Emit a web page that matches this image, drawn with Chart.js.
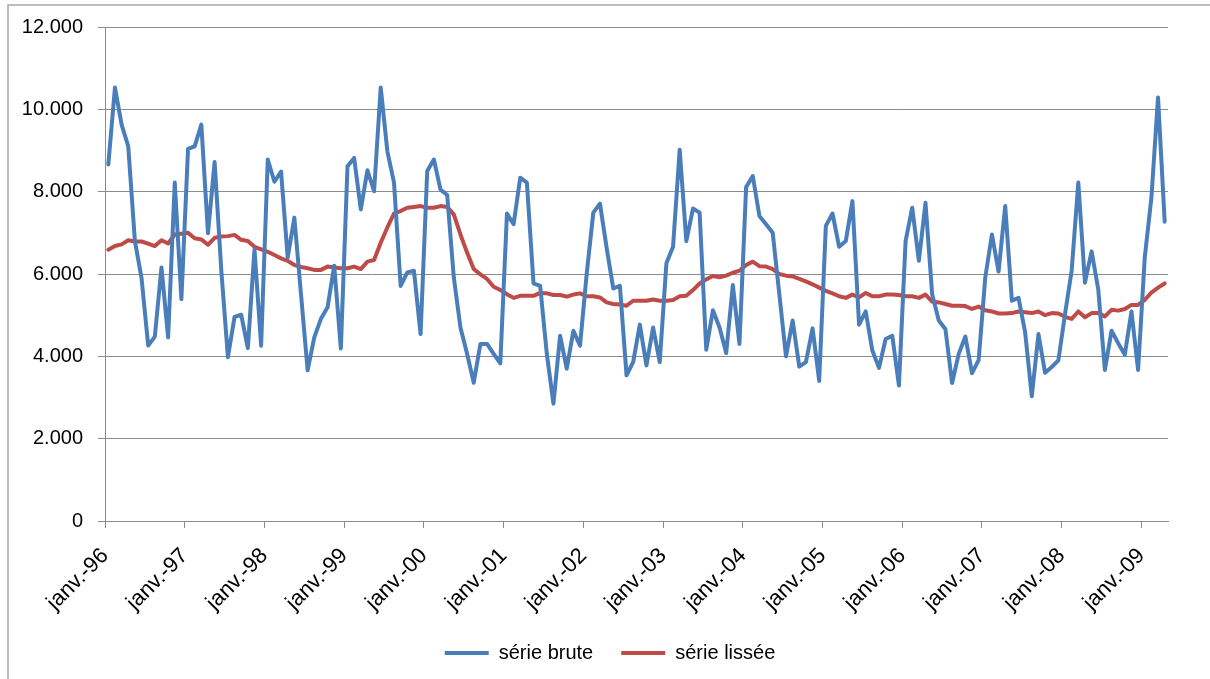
<!DOCTYPE html>
<html>
<head>
<meta charset="utf-8">
<script src="https://cdn.jsdelivr.net/npm/chart.js@4/dist/chart.umd.min.js"></script>
<style>
  html, body { margin: 0; padding: 0; background: #fff; }
  #cadre { width: 1210px; height: 679px; }
</style>
</head>
<body>
<div id="cadre"><canvas id="graphique"></canvas></div>
<script>
// étiquettes de l'axe des x (une par année, au mois de janvier)
const tickLabels = ['janv.-96', 'janv.-97', 'janv.-98', 'janv.-99', 'janv.-00', 'janv.-01', 'janv.-02',
  'janv.-03', 'janv.-04', 'janv.-05', 'janv.-06', 'janv.-07', 'janv.-08', 'janv.-09'];

// série mensuelle, janv. 96 -> avr. 09
const serieBrute = [
  8660, 10530, 9630, 9100, 6800, 5900, 4260, 4480, 6160, 4460, 8220, 5390,
  9040, 9100, 9630, 6990, 8720, 6100, 3980, 4960, 5010, 4200, 6600, 4260,
  8780, 8240, 8490, 6400, 7370, 5510, 3660, 4460, 4910, 5190, 6200, 4190,
  8620, 8820, 7570, 8520, 8010, 10530, 8980, 8220, 5710, 6040, 6080, 4540,
  8500, 8780, 8050, 7920, 5920, 4700, 4060, 3360, 4300, 4300, 4060, 3830,
  7470, 7210, 8340, 8220, 5770, 5710, 4060, 2850, 4500, 3700, 4620, 4260,
  6000, 7490, 7710, 6640, 5650, 5710, 3540, 3860, 4770, 3780, 4700, 3860,
  6260, 6660, 9020, 6800, 7590, 7490, 4160, 5120, 4700, 4080, 5730, 4300,
  8110, 8380, 7410, 7210, 7000, 5510, 4000, 4870, 3750, 3860, 4680, 3400,
  7170, 7470, 6660, 6800, 7770, 4770, 5090, 4140, 3720, 4420, 4500, 3290,
  6800, 7610, 6320, 7730, 5510, 4870, 4660, 3350, 4060, 4480, 3590, 3910,
  5920, 6960, 6060, 7650, 5350, 5420, 4580, 3030, 4540, 3600, 3740, 3900,
  5030, 6080, 8220, 5790, 6550, 5630, 3670, 4620, 4320, 4040, 5090, 3670,
  6400, 7850, 10290, 7270
];

const serieLissee = [
  6590, 6680, 6720, 6820, 6790, 6790, 6740, 6680, 6820, 6740, 6960, 6980,
  7000, 6870, 6840, 6710, 6880, 6910, 6920, 6950, 6830, 6800, 6660, 6600,
  6540, 6460, 6380, 6320, 6220, 6170, 6140, 6100, 6100, 6180, 6160, 6140,
  6140, 6180, 6120, 6300, 6340, 6760, 7130, 7470, 7530, 7610, 7630, 7650,
  7610, 7610, 7650, 7630, 7450, 6960, 6520, 6120, 5990, 5880, 5690, 5610,
  5510, 5420, 5470, 5470, 5470, 5540, 5530, 5490, 5490, 5450, 5500, 5530,
  5460, 5460, 5430, 5310, 5270, 5260, 5230, 5350, 5350, 5350, 5380, 5350,
  5350, 5370, 5460, 5470, 5610, 5770, 5870, 5950, 5920, 5960, 6030, 6080,
  6220, 6300, 6190, 6180, 6120, 6000, 5960, 5940, 5880, 5820, 5750, 5670,
  5590, 5530, 5460, 5420, 5500, 5430, 5540, 5460, 5460, 5500, 5500, 5490,
  5460, 5460, 5420, 5500, 5330, 5310, 5270, 5230, 5230, 5220, 5150, 5210,
  5120, 5090, 5040, 5040, 5050, 5090, 5070, 5050, 5090, 5000, 5050, 5040,
  4960, 4910, 5090, 4950, 5050, 5050, 4970, 5130, 5110, 5150, 5250, 5250,
  5370, 5550, 5670, 5770
];

const gris = '#8c8c8c';
const police = "'Liberation Sans Narrow', 'Arial Narrow', 'Liberation Sans', Arial, sans-serif";

// points {x: rang du mois, y: valeur}
const enPoints = serie => serie.map((v, i) => ({ x: i, y: v }));

// séparateur de milliers à la française : 12.000
const milliers = v => String(v).replace(/\B(?=(\d{3})+(?!\d))/g, '.');

// cadre gris autour du graphique (bord gauche et haut visibles)
const cadre = {
  id: 'cadre',
  beforeDraw(chart) {
    const c = chart.ctx;
    c.save();
    c.fillStyle = '#fff';
    c.fillRect(0, 0, chart.width, chart.height);
    c.strokeStyle = '#a6a6a6';
    c.lineWidth = 1.5;
    c.strokeRect(8, 5, chart.width + 20, chart.height + 20);
    c.restore();
  },
  // légende un peu décalée vers la droite, comme sur l'original
  afterLayout(chart) {
    chart.legend.left += 26;
    chart.legend.right += 26;
  }
};

const ctx = document.getElementById('graphique').getContext('2d');
const graphique = new Chart(ctx, {
  type: 'line',
  data: {
    datasets: [{
      label: 'série brute',
      data: enPoints(serieBrute),
      borderColor: '#4a7ebb',
      backgroundColor: '#4a7ebb',
      borderWidth: 4,
      pointRadius: 0,
      tension: 0,
      borderJoinStyle: 'round',
      borderCapStyle: 'round'
    }, {
      label: 'série lissée',
      data: enPoints(serieLissee),
      borderColor: '#be4b48',
      backgroundColor: '#be4b48',
      borderWidth: 4,
      pointRadius: 0,
      tension: 0,
      borderJoinStyle: 'round',
      borderCapStyle: 'round'
    }]
  },
  options: {
    responsive: true,
    maintainAspectRatio: false,
    animation: false,
    layout: {
      padding: { top: 26, right: 42, bottom: 6, left: 0 }
    },
    plugins: {
      tooltip: { enabled: false },
      legend: {
        position: 'bottom',
        labels: {
          usePointStyle: true,
          pointStyle: 'line',
          pointStyleWidth: 44,
          color: '#000',
          padding: 28,
          font: { family: police, size: 20 }
        }
      }
    },
    scales: {
      x: {
        type: 'linear',
        min: -0.5,
        max: 159.5,
        afterBuildTicks: s => {
          s.ticks = tickLabels.map((_, k) => ({ value: -0.5 + 12 * k }));
        },
        afterFit: s => { s.height = 94; },
        ticks: {
          callback: (v, i) => tickLabels[i],
          autoSkip: false,
          maxRotation: 45,
          minRotation: 45,
          padding: 15,
          color: '#000',
          font: { family: police, size: 22 }
        },
        grid: {
          drawOnChartArea: false, // pas de lignes verticales
          tickLength: 7,
          color: gris
        },
        border: { color: gris, width: 1 }
      },
      y: {
        min: 0,
        max: 12000,
        afterFit: s => { s.width = 105; },
        ticks: {
          stepSize: 2000,
          callback: v => milliers(v),
          padding: 15,
          color: '#000',
          font: { family: police, size: 20 }
        },
        grid: { color: gris, tickLength: 7 },
        border: { color: gris, width: 1 }
      }
    }
  },
  plugins: [cadre]
});
</script>
</body>
</html>
